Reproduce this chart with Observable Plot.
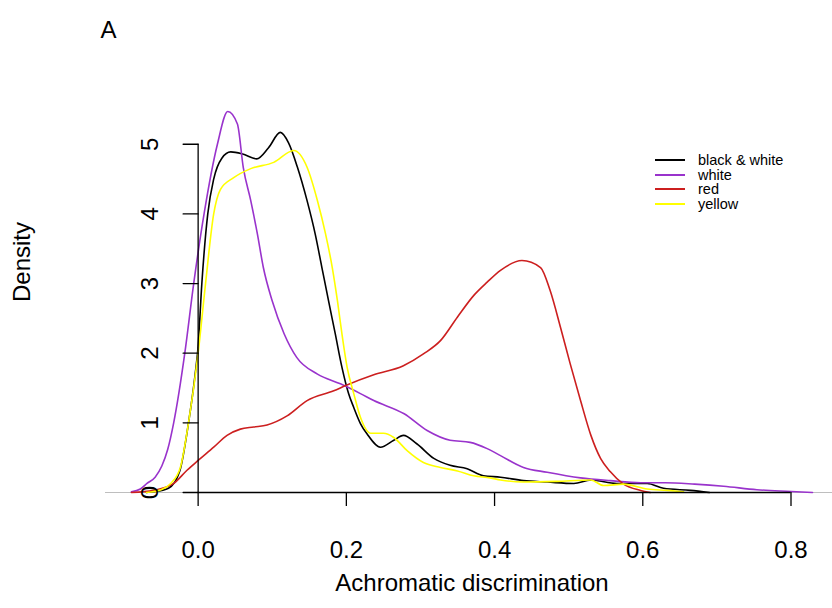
<!DOCTYPE html>
<html><head><meta charset="utf-8">
<script src="https://cdn.jsdelivr.net/npm/d3@7"></script>
<script src="https://cdn.jsdelivr.net/npm/@observablehq/plot@0.6"></script>
<style>
body{margin:0;background:#fff;}
#wrap{position:relative;width:832px;height:608px;font-family:"Liberation Sans",Arial,sans-serif;}
#legend{position:absolute;left:655px;top:153px;font-size:14.5px;line-height:14.5px;color:#000;}
.row{display:flex;align-items:center;height:14.5px;white-space:nowrap;}
.sw{display:block;width:30px;height:2px;margin-right:13px;flex:none;}
</style></head><body><div id="wrap"><div id="legend"></div></div>
<script>
const seriesNames = ["black & white", "white", "red", "yellow"];
const seriesColors = ["#000000", "#9933cc", "#cc1f1f", "#ffff00"];

const bwX = [-0.07, -0.06, -0.04, -0.025, -0.013, -0.004, 0.0, 0.005, 0.013, 0.021, 0.032, 0.044, 0.060, 0.079, 0.095, 0.111, 0.122, 0.134, 0.147, 0.158, 0.167, 0.176, 0.185, 0.194, 0.203, 0.210, 0.219, 0.228, 0.246, 0.264, 0.277, 0.295, 0.318, 0.340, 0.363, 0.385, 0.408, 0.439, 0.471, 0.507, 0.530, 0.565, 0.606, 0.628, 0.664, 0.690];
const bwY = [0.0, 0.01, 0.06, 0.3, 1.0, 1.7, 2.1, 3.0, 4.0, 4.5, 4.8, 4.89, 4.86, 4.79, 4.95, 5.17, 5.02, 4.67, 4.19, 3.71, 3.23, 2.75, 2.28, 1.80, 1.42, 1.22, 0.99, 0.84, 0.65, 0.75, 0.82, 0.70, 0.49, 0.39, 0.34, 0.24, 0.22, 0.17, 0.15, 0.13, 0.18, 0.13, 0.13, 0.06, 0.03, 0.0];

const whiteX = [-0.09, -0.078, -0.069, -0.058, -0.049, -0.041, -0.033, -0.018, -0.006, 0.008, 0.026, 0.040, 0.053, 0.061, 0.071, 0.080, 0.088, 0.100, 0.116, 0.133, 0.161, 0.192, 0.219, 0.237, 0.278, 0.309, 0.340, 0.367, 0.390, 0.408, 0.439, 0.471, 0.516, 0.556, 0.597, 0.630, 0.670, 0.709, 0.754, 0.800, 0.829];
const whiteY = [0.01, 0.05, 0.13, 0.22, 0.38, 0.62, 1.0, 2.0, 3.0, 4.0, 5.0, 5.47, 5.29, 4.66, 4.19, 3.71, 3.23, 2.75, 2.28, 1.94, 1.70, 1.56, 1.42, 1.32, 1.13, 0.89, 0.75, 0.72, 0.63, 0.53, 0.36, 0.29, 0.21, 0.17, 0.14, 0.14, 0.12, 0.09, 0.04, 0.015, 0.0];

const redX = [-0.09, -0.06, -0.033, -0.015, 0.0, 0.021, 0.039, 0.057, 0.075, 0.093, 0.120, 0.147, 0.183, 0.200, 0.237, 0.277, 0.304, 0.327, 0.350, 0.372, 0.390, 0.408, 0.437, 0.462, 0.475, 0.489, 0.502, 0.516, 0.530, 0.543, 0.556, 0.574, 0.597, 0.610];
const redY = [0.0, 0.03, 0.13, 0.32, 0.46, 0.65, 0.82, 0.91, 0.94, 0.97, 1.10, 1.32, 1.46, 1.54, 1.69, 1.82, 1.99, 2.18, 2.52, 2.83, 3.02, 3.19, 3.33, 3.23, 2.90, 2.37, 1.85, 1.32, 0.82, 0.49, 0.30, 0.12, 0.03, 0.0];

const yellowX = [-0.07, -0.05, -0.037, -0.024, -0.013, 0.0, 0.010, 0.021, 0.030, 0.048, 0.071, 0.102, 0.129, 0.147, 0.161, 0.172, 0.181, 0.188, 0.194, 0.201, 0.210, 0.219, 0.233, 0.250, 0.264, 0.282, 0.304, 0.327, 0.350, 0.372, 0.394, 0.408, 0.439, 0.484, 0.530, 0.547, 0.574, 0.606, 0.633, 0.655];
const yellowY = [0.0, 0.04, 0.13, 0.36, 1.0, 2.0, 3.0, 4.0, 4.35, 4.52, 4.65, 4.74, 4.91, 4.67, 4.19, 3.71, 3.23, 2.75, 2.28, 1.80, 1.42, 1.08, 0.85, 0.85, 0.79, 0.60, 0.43, 0.36, 0.31, 0.24, 0.21, 0.18, 0.15, 0.16, 0.18, 0.10, 0.12, 0.05, 0.03, 0.01];

const xTicks = [0.0, 0.2, 0.4, 0.6, 0.8];
const yTicks = [0, 1, 2, 3, 4, 5];
const xLabel = "Achromatic discrimination";
const yLabel = "Density";
const panelLabel = "A";

const seriesXs = [bwX, whiteX, redX, yellowX];
const seriesYs = [bwY, whiteY, redY, yellowY];
const rows = [];
seriesNames.forEach((name, i) => {
  seriesXs[i].forEach((x, j) => rows.push({series: name, x, y: seriesYs[i][j]}));
});

const tickShape = {draw(ctx, l) { ctx.moveTo(0, 0); ctx.lineTo(0, -l); }};

const chart = Plot.plot({
  width: 832, height: 608,
  marginLeft: 105, marginRight: 0, marginTop: 95, marginBottom: 116,
  style: {fontFamily: '"Liberation Sans", Arial, sans-serif', background: "#fff", color: "#000"},
  x: {domain: [-0.125, 0.856]},
  y: {domain: [0, 5.7], axis: null},
  color: {domain: seriesNames, range: seriesColors},
  marks: [
    Plot.ruleY([0], {stroke: "#bebebe", strokeWidth: 1}),
    Plot.lineY(rows, {x: "x", y: "y", z: "series", stroke: "series", strokeWidth: 1.6, curve: "monotone-x"}),
    Plot.ruleY([0], {x1: xTicks[0], x2: xTicks[xTicks.length - 1], stroke: "#000", strokeWidth: 1.3}),
    Plot.ruleX([0], {y1: yTicks[0], y2: yTicks[yTicks.length - 1], stroke: "#000", strokeWidth: 1.3}),
    Plot.vector(yTicks, {x: 0, y: d => d, length: 15, rotate: -90, anchor: "start", shape: tickShape, stroke: "#000", strokeWidth: 1.3}),
    Plot.text(yTicks, {x: 0, y: d => d, text: d => String(d), rotate: -90, dx: -48, fontSize: 24, fill: "#000"}),
    Plot.axisX(xTicks, {tickSize: 14, tickPadding: 34, fontSize: 24, tickFormat: d3.format(".1f"), label: null, stroke: "#000", strokeWidth: 1.3, fill: "#000"}),
    Plot.text([xLabel], {frameAnchor: "bottom", dy: 98, dx: 3, fontSize: 24, fill: "#000"}),
    Plot.text([yLabel], {frameAnchor: "left", rotate: -90, dx: -83, dy: 8, fontSize: 24, fill: "#000"}),
    Plot.text([panelLabel], {frameAnchor: "top-left", dx: -5, dy: -75, fontSize: 24, fill: "#000"})
  ]
});
document.getElementById("wrap").prepend(chart);

const legend = document.getElementById("legend");
seriesNames.forEach((name, i) => {
  const row = document.createElement("div");
  row.className = "row";
  const sw = document.createElement("span");
  sw.className = "sw";
  sw.style.background = seriesColors[i];
  const lab = document.createElement("span");
  lab.textContent = name;
  row.append(sw, lab);
  legend.append(row);
});
</script></body></html>
